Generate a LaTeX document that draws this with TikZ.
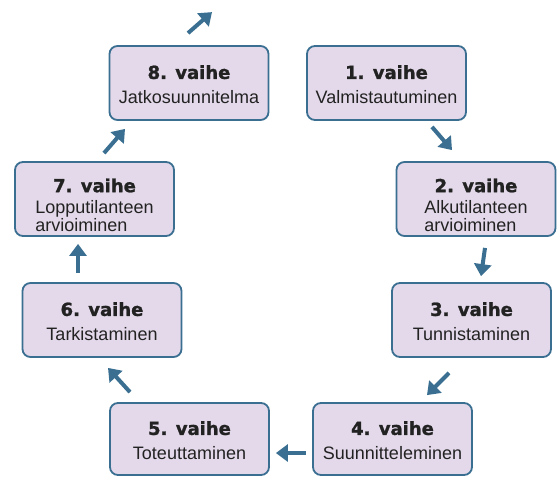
\documentclass[tikz,border=0pt]{standalone}
\usepackage{fontspec}
\setmainfont{Liberation Sans}
\newfontfamily\vaihefont{DejaVu Sans}[BoldFeatures={FakeBold=1.3}]
\usetikzlibrary{arrows.meta}

\definecolor{boxline}{HTML}{3A6F92}
\definecolor{boxfill}{HTML}{E4D9EA}
\definecolor{boxtext}{HTML}{222222}
\newcommand{\vaihe}[1]{{\vaihefont\bfseries #1. vaihe}}
\newcommand{\kaksirivi}[2]{\begin{tabular}[t]{@{}l@{}}#1\\#2\end{tabular}}

\begin{document}
\begin{tikzpicture}[
    x=1pt, y=-1pt,
    box/.style={draw=boxline, fill=boxfill, line width=1.8pt, rounded corners=8pt,
      minimum width=159pt, minimum height=74pt, inner sep=0pt, align=center,
      text=boxtext, font=\fontsize{18}{16}\selectfont},
    flow/.style={draw=boxline, line width=4pt, -{Triangle[width=17pt,length=12pt]}}
    ]
  \useasboundingbox (0,0) rectangle (557,477);

  \node[box] (b1) at (386.5,83) {\rule{0pt}{17pt}\vaihe{1}\\[9pt]Valmistautuminen};
  \node[box] (b2) at (476,199) {\rule{0pt}{30pt}\vaihe{2}\\[5pt]\kaksirivi{Alkutilanteen}{arvioiminen}};
  \node[box] (b3) at (471.5,320) {\rule{0pt}{17pt}\vaihe{3}\\[9pt]Tunnistaminen};
  \node[box, minimum height=72pt] (b4) at (392.5,439) {\rule{0pt}{17pt}\vaihe{4}\\[9pt]Suunnitteleminen};
  \node[box, minimum height=72pt] (b5) at (189.5,439) {\rule{0pt}{17pt}\vaihe{5}\\[9pt]Toteuttaminen};
  \node[box] (b6) at (102,320) {\rule{0pt}{17pt}\vaihe{6}\\[9pt]Tarkistaminen};
  \node[box] (b7) at (94.5,199) {\rule{0pt}{30pt}\vaihe{7}\\[5pt]\kaksirivi{Lopputilanteen}{arvioiminen}};
  \node[box] (b8) at (189,83) {\rule{0pt}{17pt}\vaihe{8}\\[9pt]Jatkosuunnitelma};

  \draw[flow] ([xshift=45.5pt,yshift=-6pt]b1.south) -- ([xshift=-24pt,yshift=11pt]b2.north);
  \draw[flow] ([xshift=9pt,yshift=-11pt]b2.south) -- ([xshift=9.5pt,yshift=6pt]b3.north);
  \draw[flow] ([xshift=-22.5pt,yshift=-15pt]b3.south) -- ([xshift=34.5pt,yshift=7pt]b4.north);
  \draw[flow] ([xshift=-6pt,yshift=-14pt]b4.west) -- ([xshift=6pt,yshift=-14pt]b5.east);
  \draw[flow] ([xshift=-59.5pt,yshift=10pt]b5.north) -- ([xshift=6pt,yshift=-10pt]b6.south);
  \draw[flow] ([xshift=-24pt,yshift=9pt]b6.north) -- ([xshift=-16.5pt,yshift=-7pt]b7.south);
  \draw[flow] ([xshift=9.5pt,yshift=8pt]b7.north) -- ([xshift=-64pt,yshift=-8pt]b8.south);
  \draw[flow] ([xshift=-1pt,yshift=12pt]b8.north) -- ([xshift=23pt,yshift=33pt]b8.north);

\end{tikzpicture}
\end{document}
